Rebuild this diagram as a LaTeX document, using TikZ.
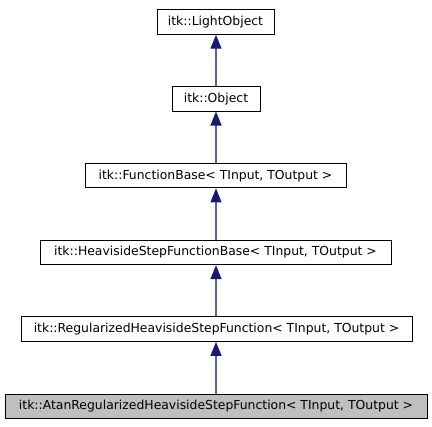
\documentclass[tikz,border=0pt]{standalone}
\usepackage{fontspec}
\setmainfont{DejaVu Sans}
\usetikzlibrary{arrows.meta}
\definecolor{edgeline}{RGB}{95,95,165}
\definecolor{headfill}{RGB}{25,25,112}
\definecolor{curfill}{RGB}{191,191,191}
\begin{document}
\begin{tikzpicture}[x=1pt,y=-1pt,
  cls/.style={draw=black,line width=1pt,fill=white,minimum height=24.5pt,inner sep=0pt,
    font=\fontsize{12.4}{15}\selectfont,anchor=center},
  inh/.style={draw=edgeline,line width=1.3pt,
    {Triangle[length=14pt,width=11pt,fill=headfill,color=headfill]}-}]
\useasboundingbox (0,0) rectangle (432,427);
\node[cls,minimum width=117pt] (lo) at (215.5,22) {itk::LightObject};
\node[cls,minimum width=88pt] (ob) at (216,98.8) {itk::Object};
\node[cls,minimum width=261pt] (fb) at (215.5,175.6) {itk::FunctionBase< TInput, TOutput >};
\node[cls,minimum width=351pt] (hb) at (215.5,252.4) {itk::HeavisideStepFunctionBase< TInput, TOutput >};
\node[cls,minimum width=391pt] (rh) at (216.5,329.2) {itk::RegularizedHeavisideStepFunction< TInput, TOutput >};
\node[cls,minimum width=422pt,fill=curfill] (ar) at (216,406.5) {itk::AtanRegularizedHeavisideStepFunction< TInput, TOutput >};
\draw[inh] (lo.south -| ob.south) -- (ob.north);
\draw[inh] (ob.south) -- (ob.south |- fb.north);
\draw[inh] (fb.south -| ob.south) -- (ob.south |- hb.north);
\draw[inh] (hb.south -| ob.south) -- (ob.south |- rh.north);
\draw[inh] (rh.south -| ob.south) -- (ob.south |- ar.north);
\end{tikzpicture}
\end{document}
